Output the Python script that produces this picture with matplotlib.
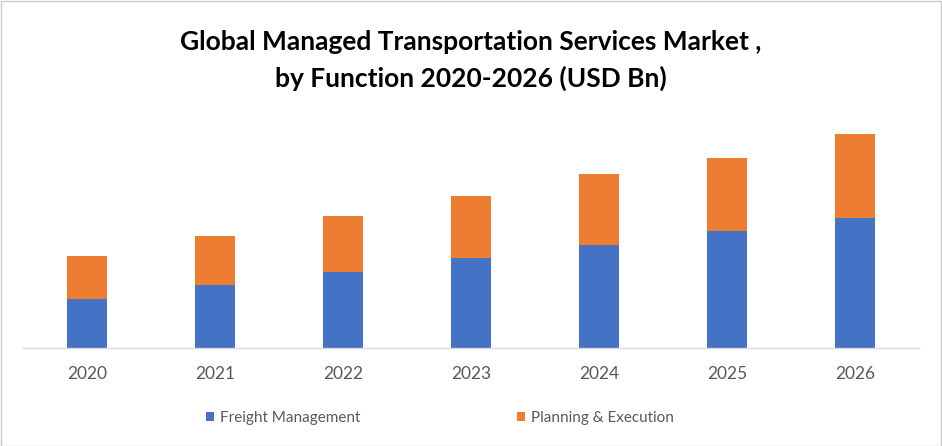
import numpy as np
import matplotlib.pyplot as plt
from matplotlib.patches import Rectangle

years = ["2020", "2021", "2022", "2023", "2024", "2025", "2026"]
freight = [4.9, 6.3, 7.6, 9.0, 10.3, 11.7, 13.0]
planning = [4.3, 4.9, 5.6, 6.2, 7.1, 7.3, 8.4]

blue = "#4472c4"
orange = "#ed7d31"
gray_text = "#595959"

plt.rcParams["font.family"] = ["Lato", "DejaVu Sans"]

fig = plt.figure(figsize=(9.42, 4.46), dpi=100)
W, H = 942, 446

# axes placed in pixel terms: x 23..919, baseline at y=348, top at y=120
ax = fig.add_axes([23 / W, (H - 348) / H, 896 / W, 228 / H])

x = np.arange(len(years))
bw = 0.3125
ax.bar(x, freight, bw, color=blue, label="Freight Management")
ax.bar(x, planning, bw, bottom=freight, color=orange, label="Planning & Execution")

ax.set_xlim(-0.5, len(years) - 0.5)
ax.set_ylim(0, 22.8)
ax.set_xticks(x)
ax.set_xticklabels(years, fontsize=12.5, color=gray_text)
ax.tick_params(axis="x", length=0, pad=13)
ax.set_yticks([])
for side in ["top", "right", "left"]:
    ax.spines[side].set_visible(False)
ax.spines["bottom"].set_color("#d9d9d9")
ax.spines["bottom"].set_linewidth(1.0)

fig.text(0.5, 1 - 42 / H, "Global Managed Transportation Services Market ,",
         ha="center", va="center", fontsize=19, fontweight="bold", color="#000000")
fig.text(0.5, 1 - 78 / H, "by Function 2020-2026 (USD Bn)",
         ha="center", va="center", fontsize=19, fontweight="bold", color="#000000")

leg = fig.legend(loc="center", bbox_to_anchor=(440 / W, 1 - 418 / H), ncol=2,
                 frameon=False, fontsize=11, handlelength=0.52, handleheight=0.52,
                 handletextpad=0.4, columnspacing=10.3)
for t in leg.get_texts():
    t.set_color(gray_text)

# light frame round the picture
fig.patches.append(Rectangle((0.5 / W, 0.5 / H), 1 - 1.5 / W, 1 - 1.5 / H,
                             transform=fig.transFigure, fill=False,
                             edgecolor="#c8c8c8", linewidth=1.0))

fig.savefig("out.png", dpi=100)
